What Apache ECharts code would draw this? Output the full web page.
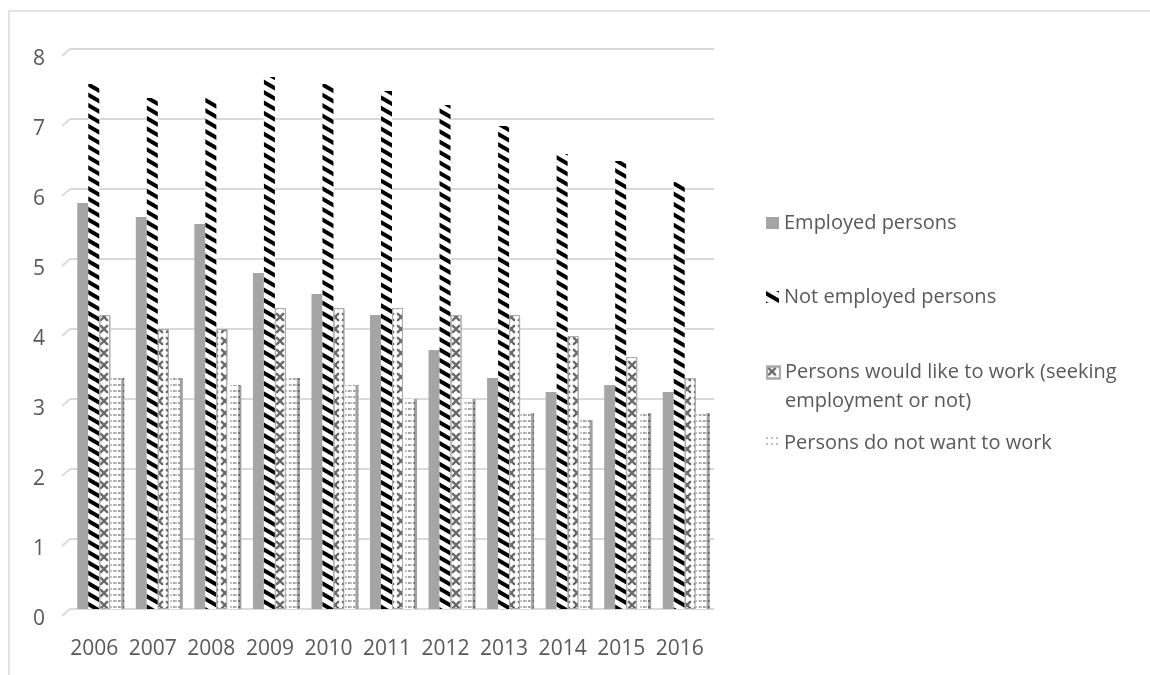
<!DOCTYPE html>
<html>
<head>
<meta charset="utf-8">
<script src="https://cdn.jsdelivr.net/npm/echarts@6/dist/echarts.min.js"></script>
<style>
html,body{margin:0;padding:0;background:#fff;}
#chart{width:1150px;height:675px;}
</style>
</head>
<body>
<div id="chart"></div>
<script>
const years = ['2006','2007','2008','2009','2010','2011','2012','2013','2014','2015','2016'];
const employed = [5.8,5.6,5.5,4.8,4.5,4.2,3.7,3.3,3.1,3.2,3.1];
const notEmployed = [7.5,7.3,7.3,7.6,7.5,7.4,7.2,6.9,6.5,6.4,6.1];
const wouldLike = [4.2,4.0,4.0,4.3,4.3,4.3,4.2,4.2,3.9,3.6,3.3];
const doNotWant = [3.3,3.3,3.2,3.3,3.2,3.0,3.0,2.8,2.7,2.8,2.8];
const yTicks = [0,1,2,3,4,5,6,7,8];
const names = ['Employed persons','Not employed persons','Persons would like to work (seeking employment or not)','Persons do not want to work'];

const FONT = 'Open Sans';
const TXT = '#595959';

const chart = echarts.init(document.getElementById('chart'));

function legendFor(name, top, extra) {
  return Object.assign({
    data: [name],
    orient: 'vertical',
    left: 766,
    top: top,
    padding: 0,
    itemWidth: 13,
    itemHeight: 12,
    icon: 'rect',
    selectedMode: false,
    textStyle: { fontFamily: FONT, fontSize: 20, color: TXT, lineHeight: 28 }
  }, extra || {});
}

const option = {
  backgroundColor: '#fff',
  animation: false,
  graphic: [{
    type: 'rect', silent: true,
    shape: { x: 9, y: 11, width: 1200, height: 700 },
    style: { fill: 'none', stroke: '#d9d9d9', lineWidth: 1.5 }
  }],
  grid: { left: 70, right: 436, top: 49, bottom: 66 },
  legend: [
    legendFor(names[0], 209),
    legendFor(names[1], 283),
    legendFor(names[2], 329, {
      formatter: function () { return '\nPersons would like to work (seeking\nemployment or not)'; },
      textStyle: { fontFamily: FONT, fontSize: 20, color: TXT, lineHeight: 29 }
    }),
    legendFor(names[3], 429)
  ],
  xAxis: {
    type: 'category',
    data: years,
    axisLine: { show: false },
    axisTick: { show: false },
    axisLabel: { interval: 0, fontFamily: FONT, fontSize: 21, color: TXT, margin: 30, lineHeight: 21, padding: [0, 10, 0, 0] }
  },
  yAxis: {
    type: 'value',
    min: 0, max: 8, interval: 1,
    axisLine: { show: false },
    axisTick: { show: false },
    splitLine: { lineStyle: { color: '#d9d9d9', width: 2 } },
    axisLabel: { fontFamily: FONT, fontSize: 21, color: TXT, margin: 25, verticalAlign: 'top', lineHeight: 20 }
  },
  series: [
    {
      name: names[0], type: 'bar', data: employed,
      barWidth: 11, barGap: '0%',
      itemStyle: { color: '#a5a5a5' }
    },
    {
      name: names[1], type: 'bar', data: notEmployed,
      barWidth: 11, barGap: '0%',
      itemStyle: {
        color: '#ffffff',
        decal: { symbol: 'rect', symbolSize: 1, dashArrayX: [1, 0], dashArrayY: [4, 5], rotation: Math.PI / 6, color: '#000000' }
      }
    },
    {
      name: names[2], type: 'bar', data: wouldLike,
      barWidth: 11, barGap: '0%',
      itemStyle: {
        color: '#ffffff', borderColor: '#aaaaaa', borderWidth: 1,
        decal: { symbol: 'path://M0,0L2,0L10,8L10,10L8,10L0,2ZM8,0L10,0L10,2L2,10L0,10L0,8Z', symbolSize: 0.85, dashArrayX: [10, 1], dashArrayY: [10, 2], color: '#6a6a6a' }
      }
    },
    {
      name: names[3], type: 'bar', data: doNotWant,
      barWidth: 11, barGap: '0%',
      itemStyle: {
        color: '#ffffff',
        shadowColor: '#a0a0a0', shadowOffsetX: 3, shadowOffsetY: 0, shadowBlur: 0,
        decal: { symbol: 'circle', symbolSize: 0.7, dashArrayX: [2, 3], dashArrayY: [2, 4], color: '#555555' }
      }
    },
    {
      type: 'custom', silent: true, z: 1,
      data: yTicks.map(function (v) { return [0, v]; }),
      encode: { x: 0, y: 1 },
      renderItem: function (params, api) {
        const p = api.coord([api.value(0), api.value(1)]);
        const band = api.size([1, 0])[0];
        const x0 = p[0] - band / 2;
        return {
          type: 'line',
          shape: { x1: x0 - 8, y1: p[1] + 7, x2: x0, y2: p[1] },
          style: { stroke: '#d9d9d9', lineWidth: 2 }
        };
      }
    }
  ]
};
chart.setOption(option);
</script>
</body>
</html>
